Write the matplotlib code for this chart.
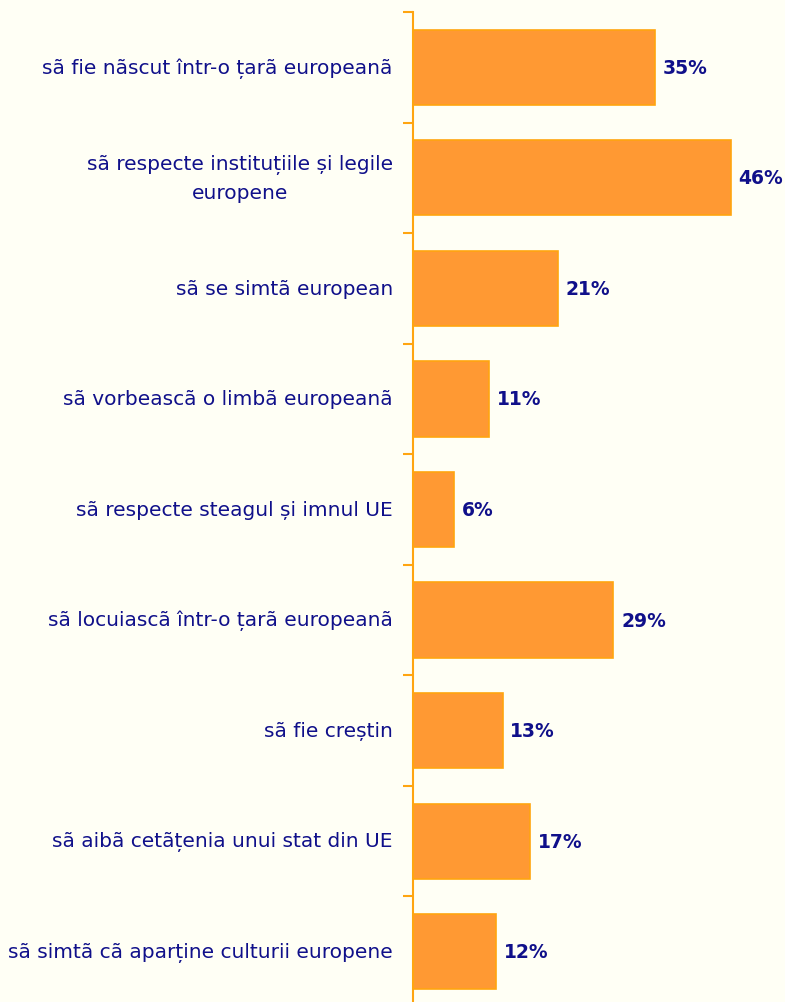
import matplotlib.pyplot as plt
import numpy as np

plt.rcParams['font.family'] = ['DejaVu Sans']

# date
categorii = [
    'sã fie nãscut într-o țarã europeanã',
    'sã respecte instituțiile și legile\neuropene',
    'sã se simtã european',
    'sã vorbeascã o limbã europeanã',
    'sã respecte steagul și imnul UE',
    'sã locuiascã într-o țarã europeanã',
    'sã fie creștin',
    'sã aibã cetãțenia unui stat din UE',
    'sã simtã cã aparține culturii europene',
]
procente = [35, 46, 21, 11, 6, 29, 13, 17, 12]

bg = '#FFFFF5'
navy = '#10108A'
portocaliu = '#FF9933'
margine = '#FFA510'

fig = plt.figure(figsize=(7.85, 10.03), dpi=100, facecolor=bg)
ax = fig.add_axes([0.526, -0.005, 0.474, 0.992], facecolor=bg)

y = np.arange(len(categorii))
bars = ax.barh(y, procente, height=0.68, color=portocaliu, edgecolor=margine, linewidth=1.2)

ax.set_xlim(0, 53.8)
ax.set_ylim(len(categorii) - 0.5, -0.5)

# linii de separare pe axa y
ax.set_yticks(np.arange(len(categorii) + 1) - 0.5)
ax.set_yticklabels([])
ax.tick_params(axis='y', length=7, width=1.5, color=margine)
ax.set_xticks([])

for s in ['top', 'right', 'bottom']:
    ax.spines[s].set_visible(False)
ax.spines['left'].set_color(margine)
ax.spines['left'].set_linewidth(1.5)

# etichete categorii
for i, txt in enumerate(categorii):
    ax.text(-2.9, i, txt, ha='right', va='center', multialignment='center',
            fontsize=14.5, color=navy, linespacing=1.58)

# etichete valori
for bar in bars:
    w = bar.get_width()
    ax.text(w + 1.1, bar.get_y() + bar.get_height() / 2, f'{w:.0f}%',
            ha='left', va='center', fontsize=13.5, fontweight='bold', color=navy)

fig.savefig('out.png', dpi=100, facecolor=bg)
